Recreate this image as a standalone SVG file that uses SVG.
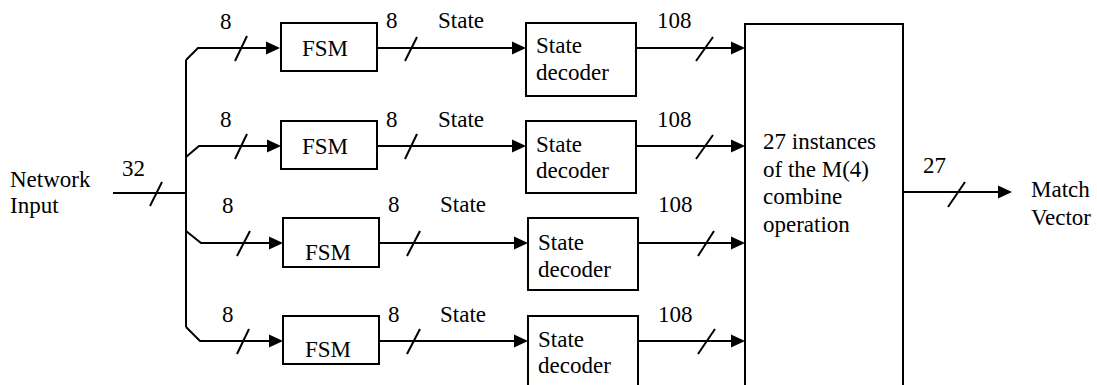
<svg xmlns="http://www.w3.org/2000/svg" width="1097" height="385" viewBox="0 0 1097 385" font-family="'Liberation Serif', 'DejaVu Serif', serif">
<style>
  text { font-family: 'Liberation Serif', 'DejaVu Serif', serif; font-size: 23px; fill: #000; }
  .box { fill: #fff; stroke: #000; stroke-width: 2; }
  .wire { fill: none; stroke: #000; stroke-width: 2; }
  .arr { marker-end: url(#ah); }
</style>
<defs>
  <marker id="ah" markerUnits="userSpaceOnUse" markerWidth="14" markerHeight="14" refX="12" refY="7" orient="auto">
    <path d="M0,0.5 L14,7 L0,13.5 z" fill="#000"/>
  </marker>
</defs>
<rect width="1097" height="385" fill="#fff"/>

<g id="connectors">
  <path class="wire" d="M113,193 H186"/>
  <path class="wire" d="M186,60 V327"/>
  <path class="wire arr" d="M186,60 L198,48 H278"/>
  <path class="wire arr" d="M186,157 L199,146 H279"/>
  <path class="wire arr" d="M186,231 L201,243 H281"/>
  <path class="wire arr" d="M186,327 L200,341 H281"/>
  <path class="wire arr" d="M377,48 H524"/>
  <path class="wire arr" d="M377,146 H524"/>
  <path class="wire arr" d="M379,243 H526"/>
  <path class="wire arr" d="M379,341 H526"/>
  <path class="wire arr" d="M636,48 H743"/>
  <path class="wire arr" d="M636,146 H743"/>
  <path class="wire arr" d="M638,243 H743"/>
  <path class="wire arr" d="M638,341 H743"/>
  <path class="wire arr" d="M903,192 H1010"/>
  <g id="bus-slashes">
    <path class="wire" d="M150,206 L162,182"/>
    <path class="wire" d="M235,61 L247,36"/>
    <path class="wire" d="M235,159 L247,134"/>
    <path class="wire" d="M237,256 L250,231"/>
    <path class="wire" d="M237,354 L249,329"/>
    <path class="wire" d="M405,61 L417,37"/>
    <path class="wire" d="M405,159 L417,134"/>
    <path class="wire" d="M407,256 L420,231"/>
    <path class="wire" d="M407,354 L420,329"/>
    <path class="wire" d="M696,61 L713,37"/>
    <path class="wire" d="M696,159 L713,135"/>
    <path class="wire" d="M698,256 L714,231"/>
    <path class="wire" d="M698,354 L715,329"/>
    <path class="wire" d="M948,207 L965,182"/>
  </g>
  <g id="labels">
    <text x="122" y="176">32</text>
    <text x="220" y="29">8</text>
    <text x="220" y="127">8</text>
    <text x="222" y="213">8</text>
    <text x="222" y="322">8</text>
    <text x="386" y="28">8</text>
    <text x="438" y="28">State</text>
    <text x="657" y="28">108</text>
    <text x="386" y="127">8</text>
    <text x="438" y="127">State</text>
    <text x="657" y="127">108</text>
    <text x="388" y="212">8</text>
    <text x="440" y="212">State</text>
    <text x="658" y="212">108</text>
    <text x="388" y="322">8</text>
    <text x="440" y="322">State</text>
    <text x="658" y="322">108</text>
    <text x="923" y="173">27</text>
  </g>
</g>

<g id="network-input">
  <text x="10" y="187">Network</text>
  <text x="10" y="213">Input</text>
</g>

<g id="fsm1"><rect class="box" x="281" y="23" width="96" height="48"/><text x="302" y="56">FSM</text></g>
<g id="fsm2"><rect class="box" x="281" y="121" width="96" height="48"/><text x="302" y="154">FSM</text></g>
<g id="fsm3"><rect class="box" x="283" y="218" width="96" height="49"/><text x="305" y="260">FSM</text></g>
<g id="fsm4"><rect class="box" x="283" y="316" width="96" height="48"/><text x="305" y="357">FSM</text></g>

<g id="decoder1"><rect class="box" x="526" y="23" width="110" height="73"/><text x="536" y="53">State</text><text x="536" y="80">decoder</text></g>
<g id="decoder2"><rect class="box" x="526" y="121" width="110" height="72"/><text x="536" y="152">State</text><text x="536" y="178">decoder</text></g>
<g id="decoder3"><rect class="box" x="528" y="218" width="110" height="72"/><text x="538" y="250">State</text><text x="538" y="277">decoder</text></g>
<g id="decoder4"><rect class="box" x="528" y="316" width="110" height="90"/><text x="538" y="347">State</text><text x="538" y="373">decoder</text></g>

<g id="combine">
  <rect class="box" x="745" y="24" width="158" height="390"/>
  <text x="763" y="149">27 instances</text>
  <text x="763" y="177">of the M(4)</text>
  <text x="763" y="204">combine</text>
  <text x="763" y="232">operation</text>
</g>

<g id="match-vector">
  <text x="1031" y="197">Match</text>
  <text x="1031" y="225">Vector</text>
</g>
</svg>
